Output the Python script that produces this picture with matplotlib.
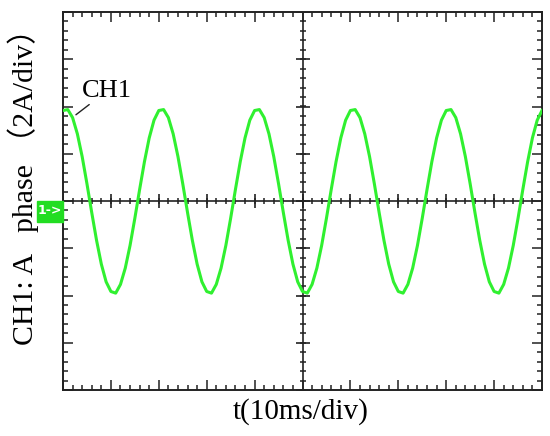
import numpy as np
import matplotlib
matplotlib.use("Agg")
from matplotlib import pyplot as plt
from matplotlib.patches import Rectangle

t_ms = list(range(0, 101))
current = [
    3.83, 3.87, 3.53, 2.84, 1.88, 0.73, -0.49, -1.66, -2.67, -3.42,
    -3.83, -3.90, -3.53, -2.84, -1.88, -0.73, 0.49, 1.66, 2.67, 3.42,
    3.83, 3.87, 3.53, 2.84, 1.88, 0.73, -0.49, -1.66, -2.67, -3.42,
    -3.83, -3.90, -3.53, -2.84, -1.88, -0.73, 0.49, 1.66, 2.67, 3.42,
    3.83, 3.87, 3.53, 2.84, 1.88, 0.73, -0.49, -1.66, -2.67, -3.42,
    -3.83, -3.90, -3.53, -2.84, -1.88, -0.73, 0.49, 1.66, 2.67, 3.42,
    3.83, 3.87, 3.53, 2.84, 1.88, 0.73, -0.49, -1.66, -2.67, -3.42,
    -3.83, -3.90, -3.53, -2.84, -1.88, -0.73, 0.49, 1.66, 2.67, 3.42,
    3.83, 3.87, 3.53, 2.84, 1.88, 0.73, -0.49, -1.66, -2.67, -3.42,
    -3.83, -3.90, -3.53, -2.84, -1.88, -0.73, 0.49, 1.66, 2.67, 3.42,
    3.83,
]

ms_per_div = 10
amp_per_div = 2
n_xdiv, n_ydiv = 10, 8

trace_green = "#30f030"
serif = ["Liberation Serif", "Noto Sans CJK SC"]

fig = plt.figure(figsize=(5.5, 4.36), dpi=100)
ax = fig.add_axes([63 / 550, 46 / 436, 479 / 550, 378 / 436])

x_max = n_xdiv * ms_per_div
y_max = n_ydiv / 2 * amp_per_div
ax.set_xlim(0, x_max)
ax.set_ylim(-y_max, y_max)

ax.set_xticks(np.arange(0, x_max + 1, ms_per_div))
ax.set_xticks(np.arange(0, x_max + 0.1, ms_per_div / 5), minor=True)
ax.set_yticks(np.arange(-y_max, y_max + 0.1, amp_per_div))
ax.set_yticks(np.arange(-y_max, y_max + 0.01, amp_per_div / 5), minor=True)
ax.tick_params(which="both", direction="in", top=True, right=True,
               labelbottom=False, labelleft=False, color="#222222", width=1.1)
ax.tick_params(which="major", length=7.5)
ax.tick_params(which="minor", length=3.5)
for sp in ax.spines.values():
    sp.set_color("#222222")
    sp.set_linewidth(1.4)

# centre crosshair with its own ticks
x_mid = x_max / 2
ax.axhline(0, color="#222222", lw=1.2, zorder=1)
ax.axvline(x_mid, color="#222222", lw=1.2, zorder=1)
xm = np.arange(0, x_max + 0.1, ms_per_div / 5)
ym = np.arange(-y_max, y_max + 0.01, amp_per_div / 5)
xM = np.arange(0, x_max + 1, ms_per_div)
yM = np.arange(-y_max, y_max + 0.1, amp_per_div)
ax.plot(xm, np.zeros_like(xm), ls="none", marker="|", ms=5, mew=1.1, color="#222222", zorder=1)
ax.plot(xM, np.zeros_like(xM), ls="none", marker="|", ms=10, mew=1.2, color="#222222", zorder=1)
ax.plot(np.full_like(ym, x_mid), ym, ls="none", marker="_", ms=5, mew=1.1, color="#222222", zorder=1)
ax.plot(np.full_like(yM, x_mid), yM, ls="none", marker="_", ms=10, mew=1.2, color="#222222", zorder=1)

ax.plot(t_ms, current, color=trace_green, lw=2.2, zorder=3)

# channel marker at the zero level
ax.add_patch(Rectangle((-0.054, 0.5 - 0.055), 0.054, 0.055, transform=ax.transAxes,
                       color="#22dd22", clip_on=False, zorder=4))
ax.text(-0.027, 0.5 - 0.026, "1->", transform=ax.transAxes, color="white",
        fontsize=9, fontweight="bold", ha="center", va="center", zorder=5)

ax.annotate("CH1", xy=(2.7, 3.65), xytext=(4.0, 4.2), fontsize=19, family=serif,
            ha="left", va="bottom",
            arrowprops=dict(arrowstyle="-", color="#222222", lw=1.0, shrinkA=0, shrinkB=0))

fig.text(23 / 550, 1 - 179 / 436, "CH1: A   phase （2A/div）", rotation=90,
         ha="center", va="center", fontsize=21.5, family=serif)
fig.text(301 / 550, 1 - 412 / 436, "t(10ms/div)", ha="center", va="center",
         fontsize=21, family=serif)

fig.savefig("out.png", dpi=100)
